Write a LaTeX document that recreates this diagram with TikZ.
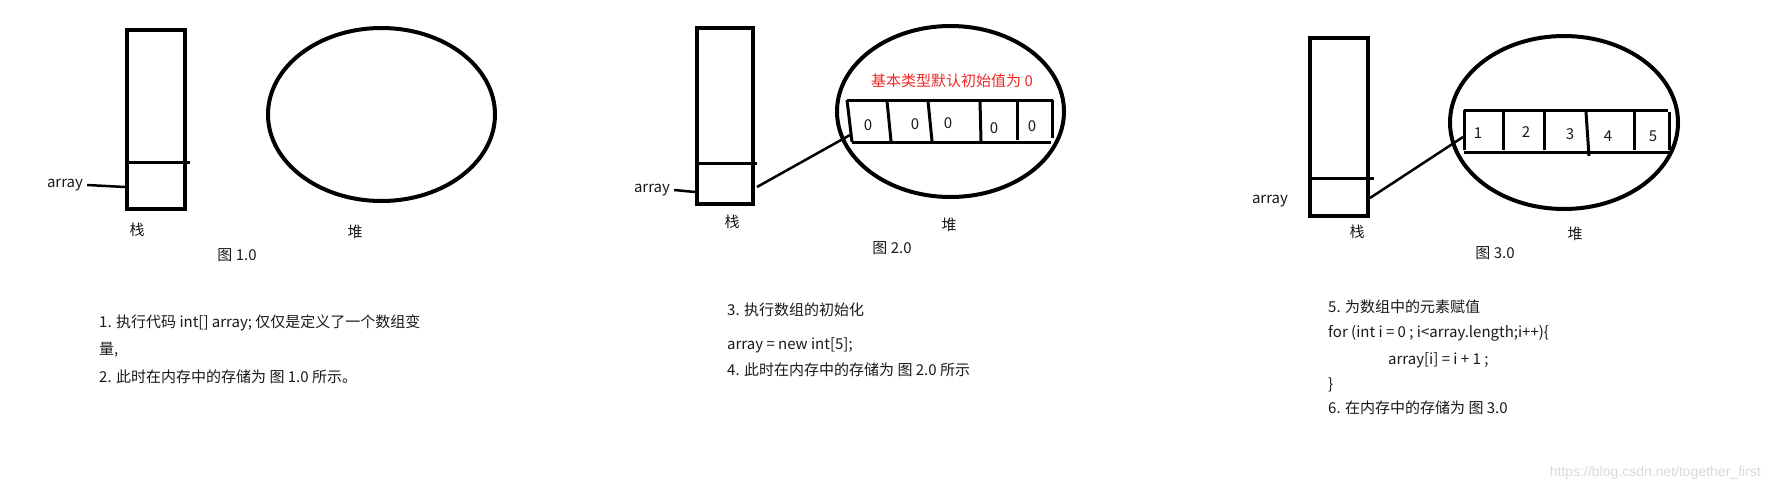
\documentclass[tikz,border=0pt]{standalone}
\usepackage{fontspec}
\setmainfont{Noto Sans CJK SC}
\newfontfamily\markfont{Liberation Sans}
\usetikzlibrary{shapes.geometric}

\definecolor{hintred}{RGB}{240,40,40}

\begin{document}
\begin{tikzpicture}[x=1pt,y=-1pt,
  every node/.style={font=\fontsize{15}{17}\selectfont,inner sep=0pt,text=black!90},
  stackbox/.style={draw,line width=4pt,minimum width=58pt,minimum height=179pt},
  heapoval/.style={draw,ellipse,line width=4pt},
  cellline/.style={line width=3pt},
  wire/.style={line width=2.5pt},
  note/.style={anchor=west}]

  \useasboundingbox (0,0) rectangle (1770,493);

  % figure 1.0
  \node[stackbox] (stack1) at (156,119) {};
  \draw[cellline] (127,162) -- (190,162);
  \node[heapoval,minimum width=227pt,minimum height=173pt] (heap1) at (381.5,114.5) {};
  \node (arr1) at (65,185) {array};
  \coordinate (cell1) at (125,187);
  \draw[wire] ([xshift=4pt]arr1.east) -- (cell1);
  \node (stk1) at (137,230) {栈};
  \node (hp1)  at (355,232) {堆};
  \node (fig1) at (237,255) {图 1.0};

  % figure 2.0
  \node[stackbox,minimum width=56pt,minimum height=176pt] (stack2) at (725,116) {};
  \draw[cellline] (697,163) -- (757,163);
  \node[heapoval,minimum width=227pt,minimum height=171pt] (heap2) at (950.5,111.5) {};
  \node[text=hintred] (hint) at (952,81) {基本类型默认初始值为 0};
  \draw[cellline] (847,100) -- (1053,100);
  \draw[cellline] (852,142) -- (1051,142);
  \draw[cellline] (847,100) -- (852,142);
  \draw[cellline] (887,101) -- (891,141);
  \draw[cellline] (928,101) -- (932,141);
  \draw[cellline] (980,101) -- (981,141);
  \draw[cellline] (1017,101) -- (1017,140);
  \draw[cellline] (1052,100) -- (1052,138);
  \node (v21) at (868,125) {0};
  \node (v22) at (915,124) {0};
  \node (v23) at (948,123) {0};
  \node (v24) at (994,128) {0};
  \node (v25) at (1032,126) {0};
  \node (arr2) at (652,190) {array};
  \coordinate (cell2) at (695,192);
  \draw[wire] ([xshift=4pt]arr2.east) -- (cell2);
  \coordinate (ref2) at (757,187);
  \coordinate (head2) at (850,135);
  \draw[wire] (ref2) -- (head2);
  \node (stk2) at (732,222) {栈};
  \node (hp2)  at (949,225) {堆};
  \node (fig2) at (892,248) {图 2.0};

  % figure 3.0
  \node[stackbox,minimum height=178pt] (stack3) at (1339,127) {};
  \draw[cellline] (1310,178) -- (1374,178);
  \node[heapoval,minimum width=228pt,minimum height=173pt] (heap3) at (1564,122.5) {};
  \draw[cellline] (1464,110) -- (1668,110);
  \draw[cellline] (1464,152) -- (1670,152);
  \draw[cellline] (1464,110) -- (1464,150);
  \draw[cellline] (1503,112) -- (1503,150);
  \draw[cellline] (1544,110) -- (1544,150);
  \draw[cellline] (1586,112) -- (1589,156);
  \draw[cellline] (1634,111) -- (1634,150);
  \draw[cellline] (1669,112) -- (1669,150);
  \node (v31) at (1478,133) {1};
  \node (v32) at (1526,132) {2};
  \node (v33) at (1570,134) {3};
  \node (v34) at (1608,136) {4};
  \node (v35) at (1653,136) {5};
  \node (arr3) at (1270,201) {array};
  \coordinate (ref3) at (1370,198);
  \coordinate (head3) at (1463,137);
  \draw[wire] (ref3) -- (head3);
  \node (stk3) at (1357,232) {栈};
  \node (hp3)  at (1575,234) {堆};
  \node (fig3) at (1495,253) {图 3.0};

  % notes
  \node[note] (n1)  at (99,323)  {1. 执行代码 int[] array; 仅仅是定义了一个数组变};
  \node[note] (n1b) at (99,350)  {量,};
  \node[note] (n2)  at (99,377)  {2. 此时在内存中的存储为 图 1.0 所示。};
  \node[note] (n3)  at (727,310) {3. 执行数组的初始化};
  \node[note] (n3b) at (727,345) {array = new int[5];};
  \node[note] (n4)  at (727,370) {4. 此时在内存中的存储为 图 2.0 所示};
  \node[note] (n5)  at (1328,307) {5. 为数组中的元素赋值};
  \node[note] (n5b) at (1328,333) {for (int i = 0 ; i<array.length;i++)\{};
  \node[note] (n5c) at (1388,360) {array[i] = i + 1 ;};
  \node[note] (n5d) at (1328,385) {\}};
  \node[note] (n6)  at (1328,408) {6. 在内存中的存储为 图 3.0};

  \node[anchor=east,text=black!15,font=\markfont\fontsize{14}{16}\selectfont] (mark) at (1761,473) {https://blog.csdn.net/together\_first};
\end{tikzpicture}
\end{document}
